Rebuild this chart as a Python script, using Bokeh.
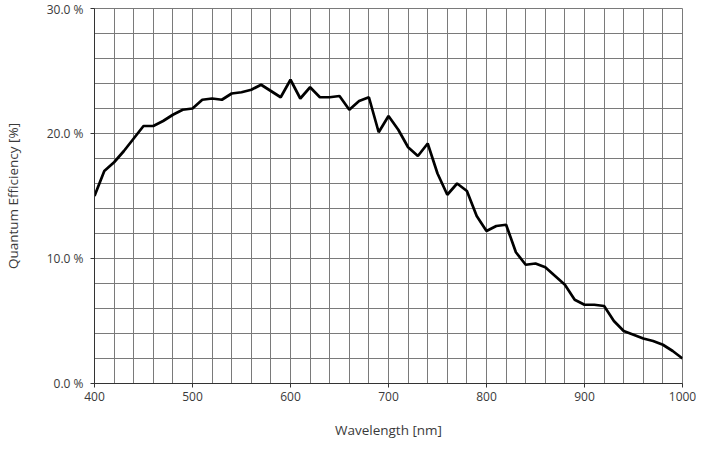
from bokeh.plotting import figure
from bokeh.models import FixedTicker, PrintfTickFormatter, Range1d
from bokeh.embed import file_html
from bokeh.resources import INLINE

wavelength = [400, 410, 420, 430, 440, 450, 460, 470, 480, 490,
              500, 510, 520, 530, 540, 550, 560, 570, 580, 590,
              600, 610, 620, 630, 640, 650, 660, 670, 680, 690,
              700, 710, 720, 730, 740, 750, 760, 770, 780, 790,
              800, 810, 820, 830, 840, 850, 860, 870, 880, 890,
              900, 910, 920, 930, 940, 950, 960, 970, 980, 990, 1000]
qe = [15.0, 17.0, 17.7, 18.6, 19.6, 20.6, 20.6, 21.0, 21.5, 21.9,
      22.0, 22.7, 22.8, 22.7, 23.2, 23.3, 23.5, 23.9, 23.4, 22.9,
      24.3, 22.8, 23.7, 22.9, 22.9, 23.0, 21.9, 22.6, 22.9, 20.1,
      21.4, 20.3, 18.9, 18.2, 19.2, 16.8, 15.1, 16.0, 15.4, 13.4,
      12.2, 12.6, 12.7, 10.5, 9.5, 9.6, 9.3, 8.6, 7.9, 6.7,
      6.3, 6.3, 6.2, 5.0, 4.2, 3.9, 3.6, 3.4, 3.1, 2.6, 2.0]

x_ticks = [400, 500, 600, 700, 800, 900, 1000]
y_ticks = [0, 10, 20, 30]
x_grid = list(range(400, 1001, 20))
y_grid = list(range(0, 31, 2))
x_title = "Wavelength [nm]"
y_title = "Quantum Efficiency [%]"

p = figure(width=696, height=444, output_backend="svg", toolbar_location=None,
           x_range=Range1d(400, 1000), y_range=Range1d(0, 30),
           min_border_left=89, min_border_right=14, min_border_top=8, min_border_bottom=61)

p.line(wavelength, qe, line_color="black", line_width=2.7)

p.xaxis.ticker = FixedTicker(ticks=x_ticks)
p.yaxis.ticker = FixedTicker(ticks=y_ticks)
p.xgrid.ticker = FixedTicker(ticks=x_grid)
p.ygrid.ticker = FixedTicker(ticks=y_grid)
p.yaxis.formatter = PrintfTickFormatter(format="%.1f %%")

for g in (p.xgrid, p.ygrid):
    g.grid_line_color = "#7a7a7a"
    g.grid_line_width = 1
    g.grid_line_alpha = 1

p.outline_line_color = "#7a7a7a"

for ax in (p.xaxis, p.yaxis):
    ax.axis_line_color = "#333333"
    ax.major_tick_line_color = "#333333"
    ax.major_tick_out = 4
    ax.major_tick_in = 0
    ax.minor_tick_line_color = None
    ax.major_label_text_font = "Open Sans"
    ax.major_label_text_font_size = "12px"
    ax.major_label_text_color = "#3a3a3a"
    ax.axis_label_text_font = "Open Sans"
    ax.axis_label_text_font_size = "13.5px"
    ax.axis_label_text_font_style = "normal"
    ax.axis_label_text_color = "#3a3a3a"

p.xaxis.axis_label = x_title
p.yaxis.axis_label = y_title
p.xaxis.major_label_standoff = 4
p.yaxis.major_label_standoff = 7
p.xaxis.axis_label_standoff = 17
p.yaxis.axis_label_standoff = 22

open("out.html", "w").write(file_html(p, INLINE))
